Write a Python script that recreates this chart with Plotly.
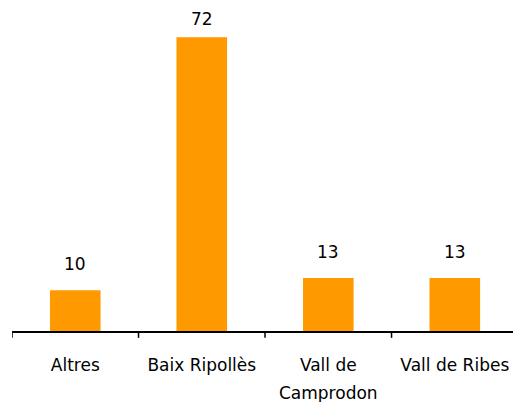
import plotly.graph_objects as go

categories = ["Altres", "Baix Ripollès", "Vall de|Camprodon", "Vall de Ribes"]
values = [10, 72, 13, 13]

# label lines drawn at 17px inside a taller line box to get the wide line spacing
ticktext = ["<br>".join("<span style='font-size:17px'>%s</span>" % p for p in c.split("|"))
            for c in categories]
xpos = list(range(len(categories)))

fig = go.Figure()
fig.add_trace(
    go.Bar(
        x=xpos, y=values,
        marker=dict(color="#FF9900", line=dict(width=0)),
        width=0.4,
        hoverinfo="x+y",
    )
)
# value labels above the bars (the tallest one sits a bit closer, as in the original)
for x, v in zip(xpos, values):
    fig.add_annotation(
        x=x, y=v, text=str(v), showarrow=False,
        yanchor="bottom", yshift=6 if v > 60 else 14,
        font=dict(size=17, color="#000000"),
    )
fig.update_xaxes(
    tickmode="array", tickvals=xpos, ticktext=ticktext,
    range=[-0.5, 3.46],
    showline=True, linecolor="#000000", linewidth=1.5,
    ticks="", showgrid=False, zeroline=False,
    tickfont=dict(size=21.5, color="#000000"),
    ticklabelstandoff=12,
)
# tick marks between categories
for b in [-0.5, 0.5, 1.5, 2.5]:
    fig.add_shape(type="line", xref="x", yref="paper", x0=b, x1=b, y0=0, y1=-0.021,
                  line=dict(color="#000000", width=1.5))
fig.update_yaxes(range=[0, 79.9], visible=False, showgrid=False)
fig.update_layout(
    width=513, height=402,
    margin=dict(l=12, r=0, t=5, b=71),
    plot_bgcolor="white", paper_bgcolor="white",
    font=dict(family="DejaVu Sans, sans-serif"),
    showlegend=False,
)
# drop the page margin so the 513x402 figure fills the window without scrollbars
fig.write_html("out.html", config={"displayModeBar": False},
               post_script="document.body.style.margin='0';")
